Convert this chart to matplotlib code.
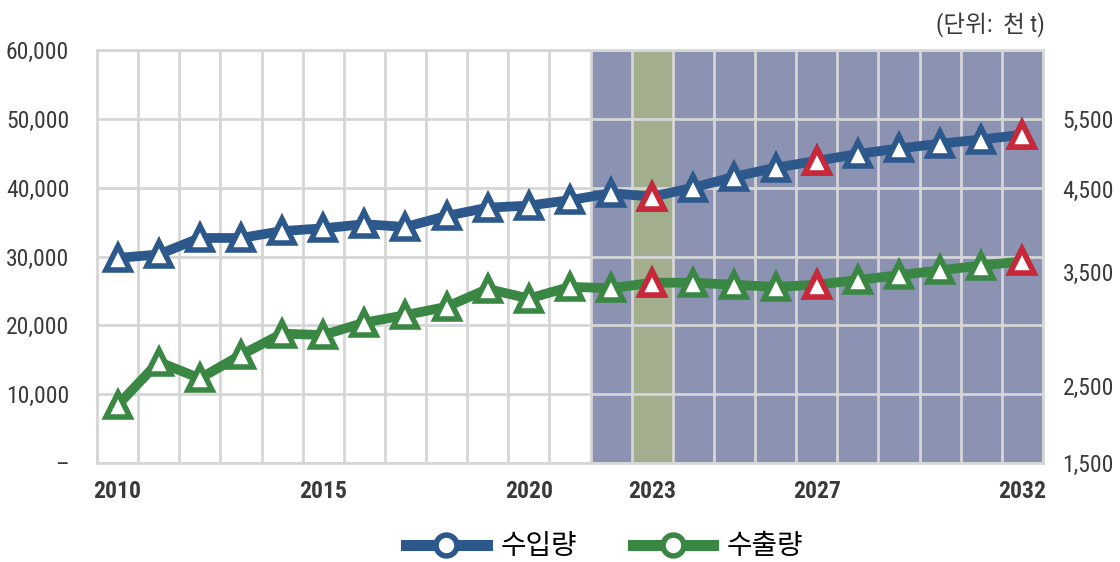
import matplotlib
matplotlib.use("Agg")
import matplotlib.pyplot as plt
from matplotlib.lines import Line2D
from matplotlib import font_manager

# pick a narrow latin font if one is installed
available = {f.name for f in font_manager.fontManager.ttflist}
narrow = [n for n in ['Liberation Sans Narrow', 'Roboto Condensed', 'DejaVu Sans Condensed',
                      'Open Sans Condensed', 'Roboto'] if n in available]
latin = narrow[0] if narrow else 'DejaVu Sans'
plt.rcParams['font.family'] = [latin, 'Noto Sans CJK KR', 'DejaVu Sans']
tick_size = 17 if latin in ('Liberation Sans Narrow', 'Roboto Condensed', 'DejaVu Sans Condensed') else 14

years = list(range(2010, 2033))
imports = [29800, 30300, 32700, 32700, 33700, 34100, 34700, 34300, 35900, 37100, 37400, 38200,
           39200, 38700, 40000, 41600, 42900, 43900, 44900, 45700, 46400, 47000, 47700]
exports = [8400, 14700, 12300, 15700, 18800, 18600, 20400, 21500, 22700, 25300, 23900, 25600,
           25400, 26200, 26200, 25900, 25600, 25900, 26600, 27300, 28000, 28700, 29300]
highlight_years = [2023, 2027, 2032]
xtick_years = [2010, 2015, 2020, 2023, 2027, 2032]
left_ticks = [0, 10000, 20000, 30000, 40000, 50000, 60000]
left_labels = ['–', '10,000', '20,000', '30,000', '40,000', '50,000', '60,000']
right_ticks = [0, 11200, 27800, 39850, 50000]
right_labels = ['1,500', '2,500', '3,500', '4,500', '5,500']
series_names = ['수입량', '수출량']

blue = '#2c588c'
green = '#3a8744'
red = '#c8283a'
label_color = '#3a3a3a'

fig = plt.figure(figsize=(11.2, 5.62), dpi=100)
ax = fig.add_axes([0.0866, 0.176, 0.8446, 0.735])

# forecast shading and base year band
ax.axvspan(2021.5, 2032.5, color='#8c92b2', zorder=0.2, lw=0)
ax.axvspan(2022.5, 2023.5, color='#a2ae8e', zorder=0.3, lw=0)

ax.set_xlim(2009.5, 2032.5)
ax.set_ylim(0, 60000)
ax.set_axisbelow(True)
ax.set_xticks([y + 0.5 for y in range(2009, 2033)], minor=True)
ax.grid(True, which='minor', axis='x', color='#d6d6d6', lw=2)
ax.grid(True, which='major', axis='y', color='#d6d6d6', lw=2)
for s in ax.spines.values():
    s.set_color('#d6d6d6')
    s.set_linewidth(2)

for vals, col in [(imports, blue), (exports, green)]:
    ax.plot(years, vals, color=col, lw=7, marker='^', ms=17, mfc='white',
            mec=col, mew=4, zorder=3, solid_joinstyle='round')
    hx = [y for y in years if y in highlight_years]
    hy = [v for y, v in zip(years, vals) if y in highlight_years]
    ax.plot(hx, hy, ls='none', marker='^', ms=17, mfc='white', mec=red, mew=4, zorder=4)

ax.set_xticks(xtick_years)
ax.set_xticklabels([str(y) for y in xtick_years], fontsize=tick_size, fontweight='bold',
                   color=label_color)
ax.set_yticks(left_ticks)
ax.set_yticklabels(left_labels, fontsize=tick_size, color=label_color)
ax.tick_params(axis='both', which='both', length=0)
ax.tick_params(axis='x', pad=12)
ax.tick_params(axis='y', pad=20)

ax2 = ax.twinx()
ax2.set_ylim(ax.get_ylim())
ax2.set_yticks(right_ticks)
ax2.set_yticklabels(right_labels, fontsize=tick_size, color=label_color)
ax2.tick_params(axis='y', length=0, pad=14)
for s in ax2.spines.values():
    s.set_visible(False)

fig.text(0.933, 0.955, '(단위:  천 t)', ha='right', va='center', fontsize=17, color=label_color)

handles = [Line2D([], [], color=c, lw=8, marker='o', ms=15, mfc='white', mec=c, mew=4)
           for c in [blue, green]]
fig.legend(handles, series_names, loc='center', bbox_to_anchor=(0.54, 0.027), ncol=2,
           frameon=False, fontsize=20, handlelength=2.9, columnspacing=2.0, handletextpad=0.5)

fig.savefig('out.png', dpi=100)
